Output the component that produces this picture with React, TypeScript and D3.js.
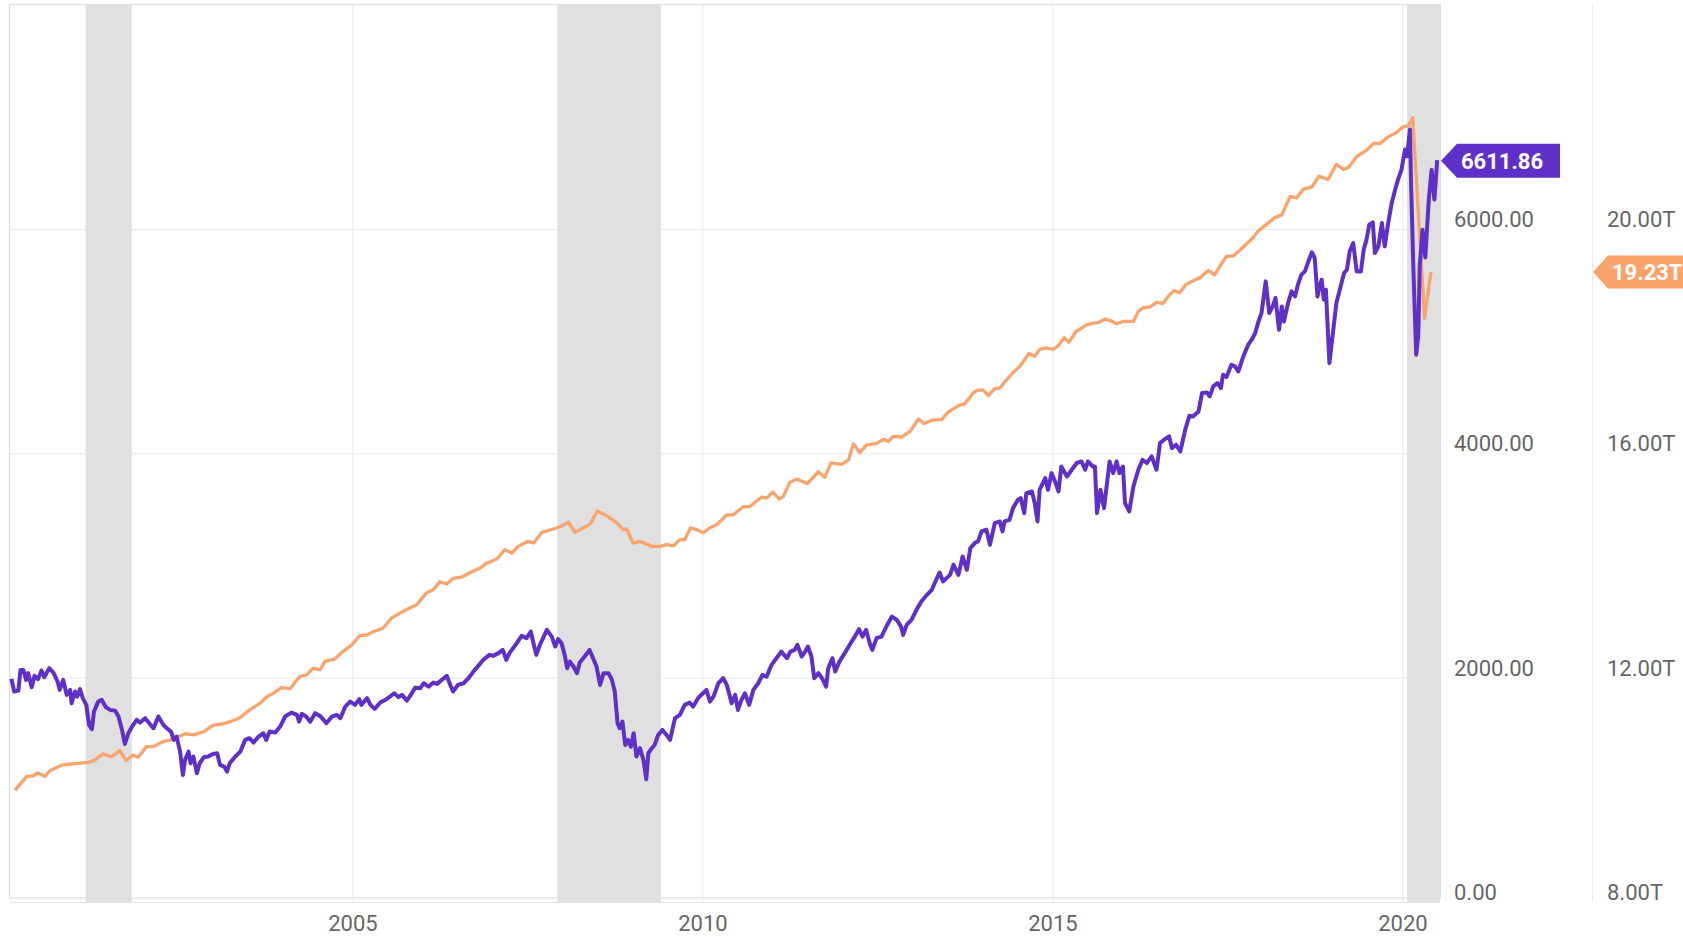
import React, { useEffect, useRef } from "react";
import * as d3 from "d3";

// [decimal year, trillions] — right axis
const gdpSeries: [number, number][] = [
  [2000.17, 9.99], [2000.34, 10.24], [2000.43, 10.25], [2000.5, 10.3], [2000.6, 10.24], [2000.67, 10.34],
  [2000.84, 10.44], [2000.96, 10.46], [2001.08, 10.47], [2001.22, 10.49], [2001.31, 10.53], [2001.43, 10.64],
  [2001.55, 10.59], [2001.67, 10.7], [2001.76, 10.52], [2001.86, 10.62], [2001.93, 10.58], [2002.05, 10.77],
  [2002.15, 10.77], [2002.29, 10.86], [2002.43, 10.9], [2002.6, 11.0], [2002.72, 10.98], [2002.86, 11.03],
  [2003.0, 11.15], [2003.15, 11.18], [2003.24, 11.21], [2003.39, 11.29], [2003.53, 11.43], [2003.67, 11.54],
  [2003.77, 11.66], [2003.86, 11.72], [2003.98, 11.82], [2004.1, 11.8], [2004.24, 12.02], [2004.34, 12.05],
  [2004.43, 12.17], [2004.53, 12.14], [2004.6, 12.29], [2004.74, 12.33], [2004.84, 12.45], [2004.98, 12.58],
  [2005.1, 12.75], [2005.2, 12.76], [2005.29, 12.82], [2005.43, 12.88], [2005.55, 13.06], [2005.67, 13.15],
  [2005.81, 13.24], [2005.91, 13.3], [2006.05, 13.51], [2006.15, 13.57], [2006.24, 13.71], [2006.34, 13.67],
  [2006.43, 13.77], [2006.55, 13.79], [2006.67, 13.87], [2006.81, 13.95], [2006.91, 14.04], [2007.05, 14.11],
  [2007.17, 14.28], [2007.27, 14.22], [2007.36, 14.34], [2007.5, 14.43], [2007.58, 14.4], [2007.7, 14.59],
  [2007.84, 14.64], [2007.96, 14.69], [2008.08, 14.77], [2008.17, 14.59], [2008.29, 14.67], [2008.39, 14.74],
  [2008.49, 14.97], [2008.62, 14.89], [2008.77, 14.76], [2008.86, 14.64], [2008.91, 14.65], [2009.0, 14.4],
  [2009.1, 14.43], [2009.27, 14.34], [2009.39, 14.34], [2009.48, 14.37], [2009.58, 14.35], [2009.67, 14.46],
  [2009.74, 14.46], [2009.82, 14.67], [2009.91, 14.64], [2010.0, 14.58], [2010.1, 14.67], [2010.2, 14.73],
  [2010.34, 14.9], [2010.43, 14.9], [2010.58, 15.05], [2010.67, 15.05], [2010.84, 15.22], [2010.91, 15.2],
  [2011.0, 15.31], [2011.09, 15.18], [2011.15, 15.23], [2011.24, 15.48], [2011.34, 15.54], [2011.49, 15.46],
  [2011.65, 15.67], [2011.74, 15.57], [2011.83, 15.83], [2011.98, 15.8], [2012.08, 15.88], [2012.15, 16.17],
  [2012.24, 16.01], [2012.34, 16.15], [2012.48, 16.17], [2012.58, 16.25], [2012.65, 16.21], [2012.72, 16.3],
  [2012.84, 16.29], [2012.96, 16.39], [2013.08, 16.61], [2013.16, 16.53], [2013.27, 16.59], [2013.41, 16.6],
  [2013.5, 16.73], [2013.65, 16.85], [2013.74, 16.88], [2013.86, 17.07], [2013.91, 17.12], [2014.0, 17.13],
  [2014.08, 17.03], [2014.17, 17.15], [2014.24, 17.16], [2014.34, 17.31], [2014.43, 17.44], [2014.53, 17.55],
  [2014.66, 17.78], [2014.74, 17.73], [2014.81, 17.85], [2014.91, 17.88], [2015.0, 17.85], [2015.08, 17.92],
  [2015.16, 18.06], [2015.23, 17.98], [2015.33, 18.17], [2015.41, 18.23], [2015.48, 18.29], [2015.58, 18.32],
  [2015.65, 18.33], [2015.74, 18.39], [2015.81, 18.37], [2015.91, 18.31], [2016.0, 18.35], [2016.15, 18.35],
  [2016.22, 18.53], [2016.29, 18.59], [2016.39, 18.61], [2016.48, 18.69], [2016.57, 18.67], [2016.65, 18.8],
  [2016.73, 18.9], [2016.81, 18.86], [2016.9, 19.01], [2016.98, 19.06], [2017.1, 19.13], [2017.22, 19.26],
  [2017.31, 19.18], [2017.43, 19.42], [2017.48, 19.51], [2017.58, 19.52], [2017.67, 19.62], [2017.77, 19.74],
  [2017.86, 19.84], [2017.93, 19.96], [2018.05, 20.08], [2018.17, 20.2], [2018.27, 20.25], [2018.39, 20.58],
  [2018.48, 20.55], [2018.58, 20.71], [2018.7, 20.75], [2018.8, 20.94], [2018.93, 20.88], [2019.05, 21.15],
  [2019.15, 21.06], [2019.22, 21.09], [2019.34, 21.29], [2019.48, 21.4], [2019.59, 21.53], [2019.67, 21.52],
  [2019.79, 21.64], [2019.91, 21.72], [2020.0, 21.82], [2020.08, 21.84], [2020.14, 21.98], [2020.31, 18.41],
  [2020.4, 19.23],
];

// [decimal year, index level] — left axis
const indexSeries: [number, number][] = [
  [2000.12, 1989], [2000.16, 1876], [2000.22, 1885], [2000.25, 2069], [2000.29, 2069], [2000.33, 1980],
  [2000.36, 2040], [2000.41, 1915], [2000.45, 2016], [2000.5, 1986], [2000.55, 2063], [2000.59, 2004],
  [2000.66, 2084], [2000.72, 2045], [2000.78, 1965], [2000.81, 1891], [2000.86, 1980], [2000.91, 1846],
  [2000.96, 1891], [2000.98, 1772], [2001.03, 1876], [2001.06, 1831], [2001.1, 1897], [2001.14, 1817],
  [2001.19, 1757], [2001.23, 1579], [2001.27, 1540], [2001.3, 1697], [2001.36, 1786], [2001.41, 1802],
  [2001.47, 1736], [2001.53, 1712], [2001.6, 1706], [2001.65, 1653], [2001.7, 1534], [2001.74, 1409],
  [2001.79, 1504], [2001.86, 1579], [2001.91, 1623], [2001.96, 1599], [2002.03, 1638], [2002.09, 1594],
  [2002.15, 1549], [2002.22, 1653], [2002.29, 1579], [2002.34, 1549], [2002.4, 1519], [2002.44, 1445],
  [2002.48, 1474], [2002.53, 1340], [2002.57, 1133], [2002.6, 1266], [2002.65, 1340], [2002.68, 1237],
  [2002.72, 1296], [2002.77, 1148], [2002.81, 1237], [2002.87, 1291], [2002.93, 1296], [2003.0, 1320],
  [2003.06, 1326], [2003.1, 1222], [2003.16, 1207], [2003.2, 1162], [2003.24, 1237], [2003.31, 1291],
  [2003.39, 1340], [2003.46, 1445], [2003.52, 1460], [2003.58, 1421], [2003.65, 1474], [2003.72, 1504],
  [2003.76, 1445], [2003.81, 1519], [2003.89, 1510], [2003.96, 1564], [2004.03, 1653], [2004.12, 1688],
  [2004.2, 1668], [2004.23, 1608], [2004.27, 1677], [2004.33, 1653], [2004.39, 1608], [2004.46, 1683],
  [2004.53, 1659], [2004.62, 1594], [2004.7, 1653], [2004.77, 1668], [2004.82, 1638], [2004.89, 1742],
  [2004.96, 1786], [2005.03, 1757], [2005.09, 1808], [2005.12, 1757], [2005.2, 1817], [2005.25, 1757],
  [2005.31, 1721], [2005.39, 1778], [2005.48, 1808], [2005.59, 1861], [2005.65, 1826], [2005.7, 1846],
  [2005.77, 1795], [2005.81, 1831], [2005.89, 1911], [2005.96, 1905], [2006.01, 1950], [2006.08, 1920],
  [2006.15, 1956], [2006.2, 1944], [2006.27, 1980], [2006.34, 2016], [2006.39, 1935], [2006.43, 1876],
  [2006.5, 1935], [2006.58, 1950], [2006.65, 1995], [2006.72, 2054], [2006.79, 2105], [2006.86, 2158],
  [2006.95, 2203], [2007.0, 2194], [2007.08, 2218], [2007.14, 2247], [2007.19, 2158], [2007.24, 2223],
  [2007.34, 2307], [2007.41, 2372], [2007.48, 2352], [2007.54, 2411], [2007.59, 2277], [2007.62, 2203],
  [2007.67, 2292], [2007.77, 2426], [2007.84, 2366], [2007.89, 2277], [2007.93, 2343], [2007.98, 2307],
  [2008.03, 2188], [2008.06, 2084], [2008.1, 2143], [2008.15, 2099], [2008.2, 2040], [2008.24, 2134],
  [2008.31, 2188], [2008.38, 2247], [2008.43, 2173], [2008.48, 2099], [2008.53, 1935], [2008.58, 2040],
  [2008.65, 2040], [2008.7, 1980], [2008.74, 1876], [2008.78, 1594], [2008.81, 1549], [2008.85, 1608],
  [2008.89, 1400], [2008.93, 1445], [2008.97, 1385], [2009.01, 1505], [2009.05, 1296], [2009.1, 1371],
  [2009.15, 1266], [2009.19, 1094], [2009.22, 1326], [2009.27, 1371], [2009.31, 1400], [2009.36, 1489],
  [2009.42, 1534], [2009.48, 1489], [2009.53, 1445], [2009.6, 1638], [2009.67, 1668], [2009.74, 1757],
  [2009.81, 1778], [2009.86, 1742], [2009.93, 1817], [2010.0, 1861], [2010.05, 1891], [2010.1, 1786],
  [2010.15, 1831], [2010.22, 1950], [2010.29, 1995], [2010.34, 1935], [2010.36, 1891], [2010.41, 1772],
  [2010.46, 1846], [2010.5, 1712], [2010.55, 1802], [2010.6, 1861], [2010.66, 1757], [2010.72, 1891],
  [2010.79, 1950], [2010.85, 2024], [2010.91, 2009], [2010.98, 2114], [2011.05, 2173], [2011.12, 2232],
  [2011.2, 2173], [2011.25, 2232], [2011.31, 2247], [2011.35, 2292], [2011.41, 2188], [2011.46, 2232],
  [2011.5, 2277], [2011.55, 2188], [2011.59, 1995], [2011.65, 2040], [2011.7, 1995], [2011.76, 1920],
  [2011.79, 2084], [2011.85, 2173], [2011.89, 2054], [2011.95, 2143], [2012.03, 2223], [2012.11, 2307],
  [2012.17, 2366], [2012.23, 2432], [2012.28, 2366], [2012.33, 2426], [2012.39, 2292], [2012.42, 2247],
  [2012.48, 2352], [2012.55, 2366], [2012.62, 2455], [2012.7, 2544], [2012.77, 2515], [2012.83, 2455],
  [2012.86, 2381], [2012.91, 2470], [2012.98, 2515], [2013.05, 2604], [2013.12, 2678], [2013.2, 2738],
  [2013.27, 2783], [2013.31, 2842], [2013.38, 2937], [2013.43, 2857], [2013.48, 2887], [2013.53, 2916],
  [2013.58, 3006], [2013.65, 2916], [2013.71, 3080], [2013.77, 2961], [2013.82, 3155], [2013.89, 3204],
  [2013.93, 3214], [2013.98, 3303], [2014.05, 3318], [2014.1, 3184], [2014.17, 3378], [2014.24, 3392],
  [2014.28, 3303], [2014.31, 3392], [2014.38, 3407], [2014.43, 3511], [2014.5, 3585], [2014.54, 3600],
  [2014.59, 3467], [2014.62, 3645], [2014.7, 3659], [2014.74, 3556], [2014.78, 3392], [2014.81, 3674],
  [2014.89, 3779], [2014.93, 3674], [2014.98, 3823], [2015.03, 3749], [2015.08, 3659], [2015.12, 3882],
  [2015.2, 3793], [2015.27, 3853], [2015.34, 3913], [2015.41, 3927], [2015.46, 3853], [2015.5, 3927],
  [2015.57, 3882], [2015.6, 3882], [2015.63, 3467], [2015.68, 3674], [2015.73, 3511], [2015.77, 3719],
  [2015.81, 3927], [2015.86, 3823], [2015.91, 3927], [2015.95, 3823], [2016.0, 3882], [2016.03, 3556],
  [2016.09, 3481], [2016.15, 3704], [2016.22, 3853], [2016.28, 3942], [2016.34, 3913], [2016.41, 3972],
  [2016.48, 3853], [2016.53, 4091], [2016.6, 4126], [2016.66, 4150], [2016.7, 4046], [2016.76, 4076],
  [2016.82, 4016], [2016.89, 4210], [2016.95, 4334], [2017.0, 4328], [2017.08, 4373], [2017.13, 4537],
  [2017.2, 4542], [2017.24, 4507], [2017.29, 4596], [2017.35, 4626], [2017.4, 4581], [2017.43, 4700],
  [2017.48, 4680], [2017.55, 4789], [2017.6, 4774], [2017.65, 4729], [2017.72, 4863], [2017.79, 4968],
  [2017.84, 5012], [2017.89, 5072], [2017.93, 5161], [2017.98, 5250], [2018.04, 5532], [2018.09, 5250],
  [2018.14, 5309], [2018.18, 5384], [2018.23, 5101], [2018.27, 5309], [2018.3, 5175], [2018.36, 5339],
  [2018.41, 5443], [2018.46, 5398], [2018.5, 5503], [2018.55, 5592], [2018.6, 5621], [2018.65, 5711],
  [2018.7, 5791], [2018.74, 5741], [2018.78, 5398], [2018.81, 5487], [2018.84, 5547], [2018.87, 5369],
  [2018.9, 5458], [2018.95, 4804], [2019.0, 5072], [2019.05, 5339], [2019.11, 5487], [2019.16, 5607],
  [2019.2, 5636], [2019.24, 5800], [2019.29, 5874], [2019.34, 5621], [2019.4, 5621], [2019.44, 5815],
  [2019.48, 5904], [2019.52, 6038], [2019.57, 6058], [2019.6, 5785], [2019.65, 5844], [2019.7, 6053],
  [2019.74, 5844], [2019.79, 6053], [2019.84, 6230], [2019.89, 6350], [2019.93, 6439], [2019.98, 6528],
  [2020.03, 6707], [2020.06, 6647], [2020.1, 6885], [2020.12, 6335], [2020.15, 5636], [2020.19, 4878],
  [2020.22, 5057], [2020.24, 5666], [2020.28, 5993], [2020.32, 5744], [2020.37, 6261], [2020.41, 6528],
  [2020.45, 6261], [2020.49, 6611.86],
];

const recessions: [number, number][] = [[2001.18, 2001.84], [2007.92, 2009.4], [2020.06, 2020.53]];
const yearTicks = [2005, 2010, 2015, 2020];
const leftTicks = [0, 2000, 4000, 6000];
const rightTicks = [8, 12, 16, 20];
const lastIndex = 6611.86;
const lastGdp = 19.23;

const PURPLE = "#5f30c8";
const ORANGE = "#f8a46c";

const App = () => {
  const svgRef = useRef<SVGSVGElement>(null);

  useEffect(() => {
    const el = svgRef.current;
    if (!el) return;
    const svg = d3.select(el);
    svg.selectAll("*").remove();

    const plotLeft = 10;
    const plotRight = 1440;
    const plotTop = 4.5;
    const zeroY = 902;

    const x = d3.scaleLinear().domain([2000.1, 2020.53]).range([plotLeft, plotRight]);
    const yL = d3.scaleLinear().domain([0, 8000]).range([zeroY, plotTop]);
    const yR = d3.scaleLinear().domain([8, 24]).range([zeroY, plotTop]);

    // grid
    const grid = svg.append("g").attr("stroke", "#e9e9e9").attr("stroke-width", 1);
    grid.selectAll("line.h")
      .data(leftTicks.slice(1))
      .join("line")
      .attr("x1", plotLeft).attr("x2", plotRight)
      .attr("y1", d => yL(d) + 0.5).attr("y2", d => yL(d) + 0.5);
    grid.selectAll("line.v")
      .data(yearTicks)
      .join("line")
      .attr("x1", d => x(d)).attr("x2", d => x(d))
      .attr("y1", plotTop).attr("y2", zeroY);

    // recession shading
    svg.append("g")
      .selectAll("rect")
      .data(recessions)
      .join("rect")
      .attr("x", d => x(d[0]))
      .attr("width", d => x(d[1]) - x(d[0]))
      .attr("y", plotTop)
      .attr("height", zeroY - plotTop)
      .attr("fill", "#e0e0e0");

    // frame
    svg.append("rect")
      .attr("x", plotLeft - 0.5).attr("y", plotTop)
      .attr("width", plotRight - plotLeft + 1).attr("height", 898 - plotTop)
      .attr("fill", "none").attr("stroke", "#dedede").attr("stroke-width", 1.2);
    svg.append("line")
      .attr("x1", plotLeft).attr("x2", plotRight)
      .attr("y1", zeroY + 0.5).attr("y2", zeroY + 0.5)
      .attr("stroke", "#e4e4e4");

    // right axis separator
    svg.append("line")
      .attr("x1", 1592.5).attr("x2", 1592.5)
      .attr("y1", plotTop).attr("y2", zeroY)
      .attr("stroke", "#ececec");

    // series
    const gdpLine = d3.line<[number, number]>().x(d => x(d[0])).y(d => yR(d[1]));
    const idxLine = d3.line<[number, number]>().x(d => x(d[0])).y(d => yL(d[1]));

    svg.append("path")
      .datum(gdpSeries)
      .attr("d", gdpLine)
      .attr("fill", "none")
      .attr("stroke", ORANGE)
      .attr("stroke-width", 3.3)
      .attr("stroke-linejoin", "round");

    svg.append("path")
      .datum(indexSeries)
      .attr("d", idxLine)
      .attr("fill", "none")
      .attr("stroke", PURPLE)
      .attr("stroke-width", 4)
      .attr("stroke-linejoin", "round");

    // tick labels
    const font = "Roboto, 'Noto Sans', sans-serif";
    const labels = svg.append("g").attr("font-family", font).attr("font-size", 22).attr("fill", "#666");

    labels.selectAll("text.l")
      .data(leftTicks)
      .join("text")
      .attr("x", 1454)
      .attr("y", d => yL(d) - 2)
      .text(d => d3.format(".2f")(d));

    labels.selectAll("text.r")
      .data(rightTicks)
      .join("text")
      .attr("x", 1607)
      .attr("y", d => yR(d) - 2)
      .text(d => d3.format(".2f")(d) + "T");

    labels.selectAll("text.x")
      .data(yearTicks)
      .join("text")
      .attr("x", d => x(d))
      .attr("y", 931)
      .attr("text-anchor", "middle")
      .text(d => String(d));

    // last value tags
    const tag = (tipX: number, baseX: number, endX: number, cy: number, h: number, fill: string, label: string) => {
      const g = svg.append("g");
      g.append("path")
        .attr("d", `M${tipX},${cy} L${baseX},${cy - h / 2} L${endX},${cy - h / 2} L${endX},${cy + h / 2} L${baseX},${cy + h / 2} Z`)
        .attr("fill", fill);
      g.append("text")
        .attr("x", baseX + 4)
        .attr("y", cy + 8)
        .attr("font-family", font)
        .attr("font-size", 22)
        .attr("font-weight", 700)
        .attr("fill", "#fff")
        .text(label);
    };
    tag(1441, 1457, 1560, yL(lastIndex) + 0.5, 34, PURPLE, d3.format(".2f")(lastIndex));
    tag(1593, 1608, 1720, yR(lastGdp), 33, ORANGE, d3.format(".2f")(lastGdp) + "T");
  }, []);

  return (
    <div style={{ position: "absolute", left: 0, top: 0, width: 1683, height: 937, background: "#fff" }}>
      <svg ref={svgRef} width={1683} height={937} style={{ display: "block" }} />
    </div>
  );
};

export default App;
